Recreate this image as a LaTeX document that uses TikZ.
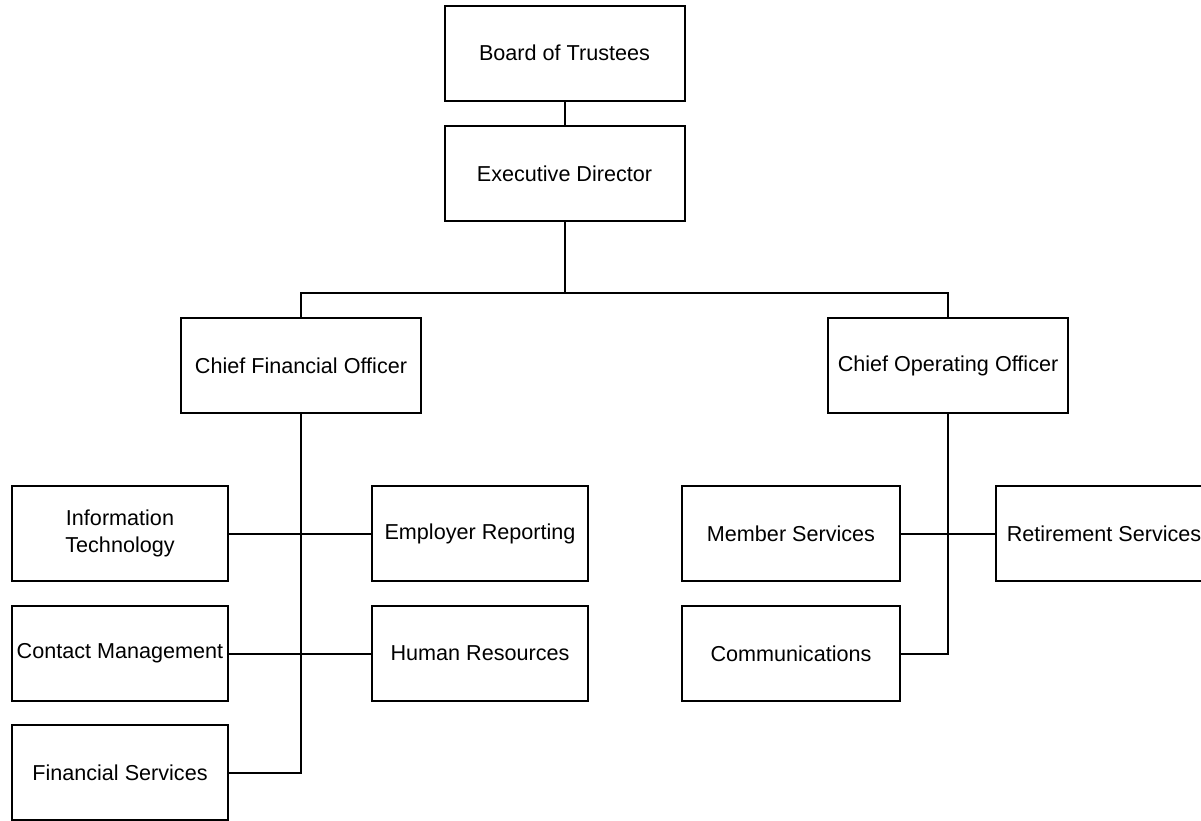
\documentclass[tikz,border=0pt]{standalone}
\usepackage{fontspec}
\setmainfont{Liberation Sans}
\begin{document}
\begin{tikzpicture}[x=1pt,y=-1pt,
  box/.style={draw=black, line width=2pt, fill=white, align=center,
    minimum height=95pt, inner sep=0pt,
    font=\fontsize{21.6}{27}\selectfont},
  wide/.style={box, minimum width=240pt},
  narrow/.style={box, minimum width=216pt},
  link/.style={draw=black, line width=2pt}]
\useasboundingbox[fill=white] (0,0) rectangle (1201,820);
\node[wide] (board) at (564.5,53) {Board of Trustees};
\node[wide] (exec) at (564.5,173.5) {Executive Director};
\node[wide] (cfo) at (301,365.5) {Chief Financial Officer};
\node[wide] (coo) at (948,365.5) {Chief Operating Officer};
\node[narrow] (it) at (120,533.5) {Information\\Technology};
\node[narrow] (er) at (480,533.5) {Employer Reporting};
\node[narrow] (cm) at (120,653.5) {Contact Management};
\node[narrow] (hr) at (480,653.5) {Human Resources};
\node[narrow] (fs) at (120,772.5) {Financial Services};
\node[narrow, minimum width=218pt] (ms) at (791,533.5) {Member Services};
\node[narrow, minimum width=218pt] (comm) at (791,653.5) {Communications};
\node[narrow] (rs) at (1104,533.5) {Retirement Services};
\coordinate (bus) at (564.5,293);
\draw[link] (board) -- (exec);
\draw[link] (exec.south) -- (bus);
\draw[link] (cfo.north) |- (bus) -| (coo.north);
\draw[link] (cfo.south) |- (fs.east);
\draw[link] (it.east) -- (er.west);
\draw[link] (cm.east) -- (hr.west);
\draw[link] (coo.south) |- (comm.east);
\draw[link] (ms.east) -- (rs.west);
\end{tikzpicture}
\end{document}
